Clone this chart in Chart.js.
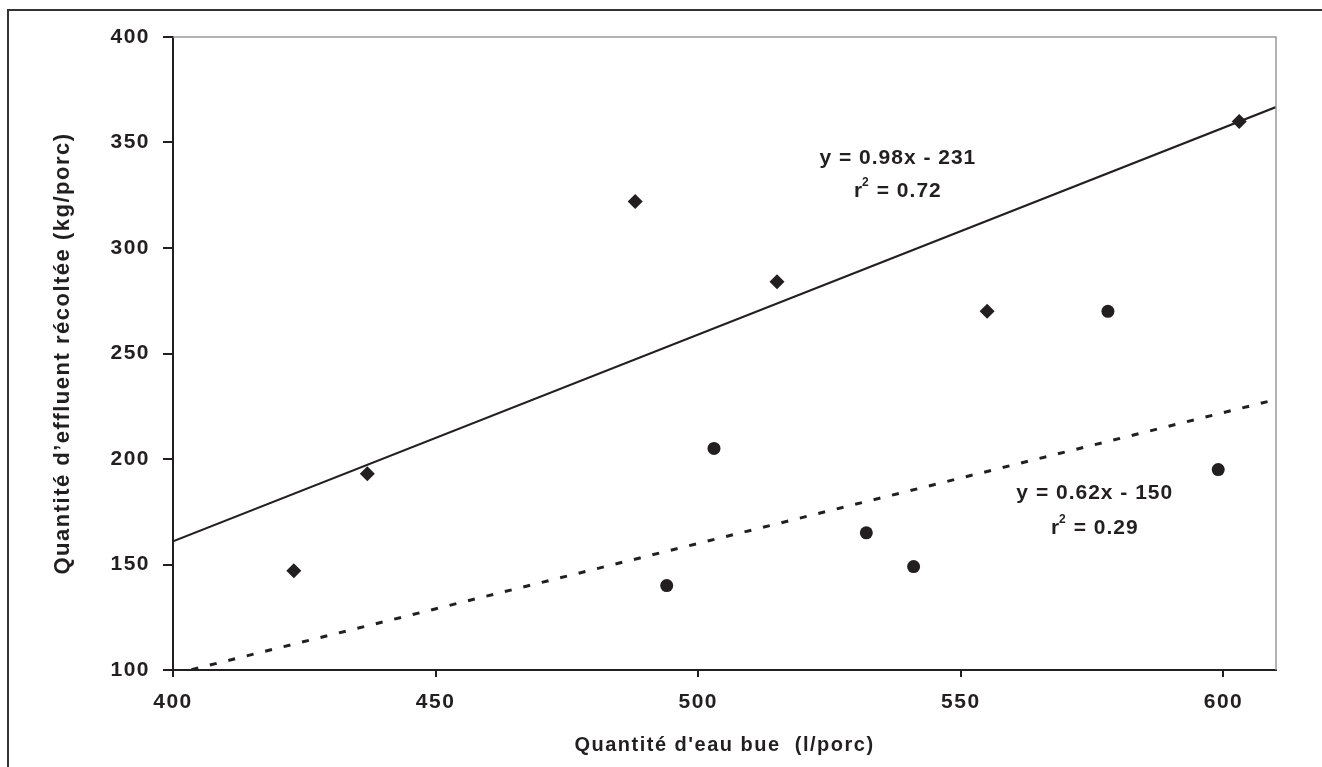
<!DOCTYPE html>
<html lang="fr">
<head>
  <meta charset="UTF-8">
  <title>Quantité d'effluent récoltée</title>
  <script src="https://cdn.jsdelivr.net/npm/chart.js"></script>
  <style>
    body { margin: 0; background: #fff; overflow: hidden; }
    #frame {
      position: absolute; left: 7px; top: 9px; width: 2000px; height: 2000px;
      border-left: 2px solid #333; border-top: 2px solid #333;
    }
    #chart { position: absolute; left: 0; top: 0; }
  </style>
</head>
<body>
  <div id="frame"></div>
  <canvas id="chart" width="1322" height="767"></canvas>

  <script>
    // Données
    const eauDiamants = [423, 437, 488, 515, 555, 603];
    const effluentDiamants = [147, 193, 322, 284, 270, 360];
    const eauRonds = [494, 503, 532, 541, 578, 599];
    const effluentRonds = [140, 205, 165, 149, 270, 195];

    // Droites de régression (pente, ordonnée à l'origine)
    const pentes = [0.98, 0.62];
    const ordonnees = [-231, -150];
    const equations = ['y = 0.98x - 231', 'y = 0.62x - 150'];
    const r2 = ['0.72', '0.29'];

    const xTicks = [400, 450, 500, 550, 600];
    const yTicks = [100, 150, 200, 250, 300, 350, 400];
    const xMin = 400, xMax = 610;

    const ink = '#231f20';
    const police = '"Liberation Sans", Arial, sans-serif';

    function droite(i) {
      return [
        { x: xMin, y: pentes[i] * xMin + ordonnees[i] },
        { x: xMax, y: pentes[i] * xMax + ordonnees[i] }
      ];
    }

    // Texte un peu plus espacé, comme sur l'original
    const espacement = {
      id: 'espacement',
      beforeDraw(chart) { chart.ctx.letterSpacing = '1.5px'; }
    };

    // Cadre gris en haut et à droite de la zone de tracé
    const cadre = {
      id: 'cadre',
      afterDraw(chart) {
        const a = chart.chartArea, c = chart.ctx;
        c.save();
        c.strokeStyle = '#9a9a9a';
        c.lineWidth = 1.5;
        c.beginPath();
        c.moveTo(a.left, a.top);
        c.lineTo(a.right, a.top);
        c.lineTo(a.right, a.bottom);
        c.stroke();
        c.restore();
      }
    };

    // Équations des droites
    const positionsTexte = [
      { x: 538, y: 340, y2: 324 },
      { x: 575.5, y: 181, y2: 164.5 }
    ];
    const etiquettes = {
      id: 'etiquettes',
      afterDatasetsDraw(chart) {
        const c = chart.ctx, sx = chart.scales.x, sy = chart.scales.y;
        c.save();
        c.letterSpacing = '1px';
        c.fillStyle = ink;
        c.textBaseline = 'alphabetic';
        positionsTexte.forEach((p, i) => {
          const px = sx.getPixelForValue(p.x);
          c.font = 'bold 21px ' + police;
          c.textAlign = 'center';
          c.fillText(equations[i], px, sy.getPixelForValue(p.y));

          // r² avec exposant
          const py = sy.getPixelForValue(p.y2);
          const reste = '  = ' + r2[i];
          const wR = c.measureText('r').width;
          const wReste = c.measureText(reste).width;
          const x0 = px - (wR + wReste) / 2;
          c.textAlign = 'left';
          c.fillText('r', x0, py);
          c.fillText(reste, x0 + wR, py);
          c.font = 'bold 12px ' + police;
          c.fillText('2', x0 + wR - 1, py - 11);
        });
        c.restore();
      }
    };

    new Chart(document.getElementById('chart'), {
      type: 'scatter',
      data: {
        datasets: [
          {
            type: 'line', data: droite(0), borderColor: ink, borderWidth: 2,
            pointRadius: 0, fill: false
          },
          {
            type: 'line', data: droite(1), borderColor: ink, borderWidth: 3,
            borderDash: [7, 12], pointRadius: 0, fill: false
          },
          {
            data: eauDiamants.map((x, i) => ({ x, y: effluentDiamants[i] })),
            pointStyle: 'rectRot', pointRadius: 7.5, backgroundColor: ink, borderColor: ink, borderWidth: 0
          },
          {
            data: eauRonds.map((x, i) => ({ x, y: effluentRonds[i] })),
            pointStyle: 'circle', pointRadius: 6.5, backgroundColor: ink, borderColor: ink, borderWidth: 0
          }
        ]
      },
      options: {
        responsive: false,
        animation: false,
        layout: { padding: { left: 0, top: 37, right: 46, bottom: 0 } },
        plugins: { legend: { display: false }, tooltip: { enabled: false } },
        scales: {
          x: {
            type: 'linear', min: xMin, max: xMax,
            afterBuildTicks: s => { s.ticks = xTicks.map(v => ({ value: v })); },
            afterFit: s => { s.height = 97; },
            grid: { drawOnChartArea: false, tickLength: 7, color: ink, lineWidth: 2 },
            border: { color: ink, width: 2 },
            ticks: { color: ink, padding: 13, font: { family: police, size: 21, weight: 'bold' } },
            title: {
              display: true, text: "Quantité d'eau bue  (l/porc)", color: ink,
              padding: { top: 0, bottom: 10 },
              font: { family: police, size: 20, weight: 'bold' }
            }
          },
          y: {
            min: 100, max: 400,
            afterBuildTicks: s => { s.ticks = yTicks.map(v => ({ value: v })); },
            afterFit: s => { s.width = 173; },
            grid: { drawOnChartArea: false, tickLength: 10, color: ink, lineWidth: 2 },
            border: { color: ink, width: 2 },
            ticks: { color: ink, padding: 13, font: { family: police, size: 21, weight: 'bold' } },
            title: {
              display: true, text: 'Quantité d’effluent récoltée (kg/porc)', color: ink,
              padding: { top: 50, bottom: 0 },
              font: { family: police, size: 22, weight: 'bold' }
            }
          }
        }
      },
      plugins: [espacement, cadre, etiquettes]
    });
  </script>
</body>
</html>
